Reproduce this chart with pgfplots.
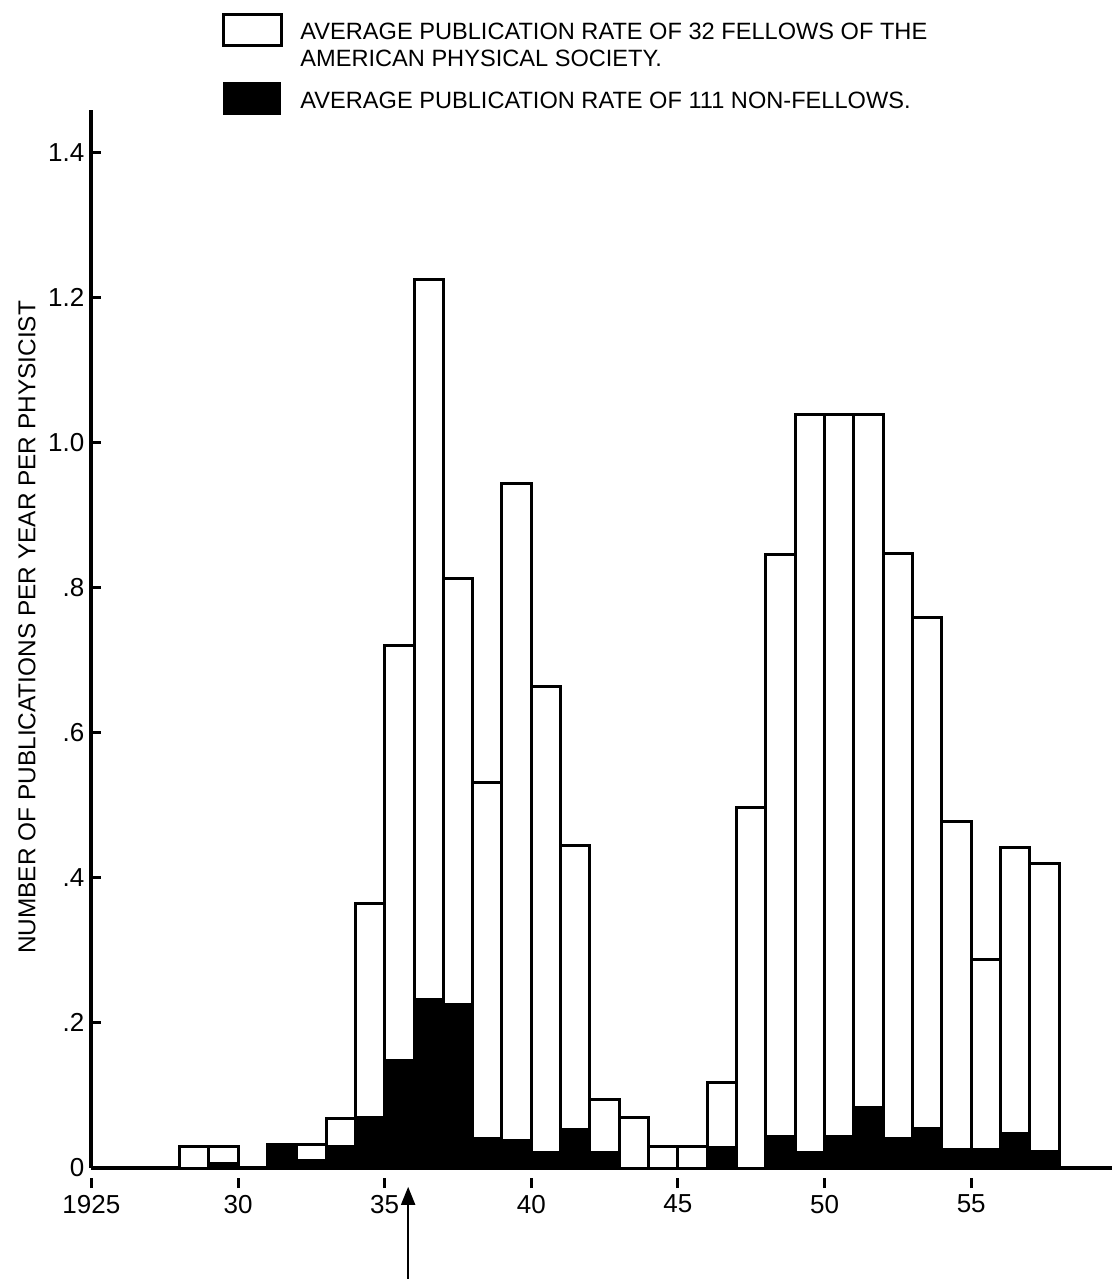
\documentclass[border=0pt]{standalone}
\usepackage{fontspec}
\setmainfont{Liberation Sans}
\usepackage{pgfplots}
\pgfplotsset{compat=1.18}
\usepackage{pgfplotstable}
\usetikzlibrary{arrows.meta}

% fellows: total rate; nonfellows: black part
\pgfplotstableread{
year fel non
1928.5 0.029 0
1929.5 0.029 0.006
1931.5 0.032 0.032
1932.5 0.032 0.010
1933.5 0.068 0.029
1934.5 0.365 0.070
1935.5 0.720 0.148
1936.5 1.225 0.232
1937.5 0.813 0.225
1938.5 0.531 0.040
1939.5 0.943 0.038
1940.5 0.663 0.022
1941.5 0.445 0.053
1942.5 0.094 0.022
1943.5 0.070 0
1944.5 0.029 0
1945.5 0.029 0
1946.5 0.118 0.028
1947.5 0.497 0
1948.5 0.846 0.044
1949.5 1.039 0.022
1950.5 1.039 0.043
1951.5 1.039 0.083
1952.5 0.847 0.040
1953.5 0.759 0.054
1954.5 0.477 0.025
1955.5 0.287 0.025
1956.5 0.442 0.048
1957.5 0.420 0.023
}\rates

\begin{document}
\begin{tikzpicture}
\path[use as bounding box] (-45.7pt,-55.5pt) rectangle (512.3pt,584pt);
\begin{axis}[
  at={(0,0)}, anchor=south west,
  scale only axis,
  width=510.3pt, height=529pt,
  xmin=1925, xmax=1959.8,
  ymin=0, ymax=1.458,
  axis x line*=bottom, axis y line*=left,
  axis line style={line width=2pt, -},
  xtick={1925,1930,...,1955},
  xticklabels={1925,30,35,40,45,50,55},
  ytick={0,0.2,0.4,0.6,0.8,1.0,1.2,1.4},
  yticklabels={0,.2,.4,.6,.8,1.0,1.2,1.4},
  major tick length=5pt,
  tick style={line width=1.5pt, black},
  every x tick/.append style={yshift=-5pt},
  /pgf/number format/assume math mode=true,
  tick label style={font=\fontsize{13}{15}\selectfont},
  xticklabel style={yshift=-5pt},
  yticklabel style={xshift=0pt},
  ylabel={NUMBER OF PUBLICATIONS PER YEAR PER PHYSICIST},
  ylabel style={at={(axis description cs:-0.063,0.511)}, anchor=center,
    font=\fontsize{12.2}{14}\selectfont},
  ybar, bar width=1, bar shift=0pt,
  clip=false,
]
\addplot[fill=white, draw=black, line width=1.5pt] table[x=year, y=fel] {\rates};
\addplot[fill=black, draw=black, line width=1.5pt] table[x=year, y=non] {\rates};
\draw[line width=1pt, -{Triangle[width=7pt,length=9pt]}]
  (axis cs:1935.8,-0.16) -- (axis cs:1935.8,-0.026);
\end{axis}
% legend
\draw[line width=1.5pt, fill=white] (65.8pt,561pt) rectangle (94.8pt,576.5pt);
\fill[black] (65.8pt,526.5pt) rectangle (94.8pt,543pt);
\begin{scope}[every node/.style={anchor=base west, inner sep=0pt, font=\fontsize{11.8}{13.5}\selectfont}]
\node at (104.3pt,564.3pt) {AVERAGE PUBLICATION RATE OF 32 FELLOWS OF THE};
\node at (104.3pt,550.9pt) {AMERICAN PHYSICAL SOCIETY.};
\node at (104.3pt,529.9pt) {AVERAGE PUBLICATION RATE OF 111 NON-FELLOWS.};
\end{scope}
\end{tikzpicture}
\end{document}
